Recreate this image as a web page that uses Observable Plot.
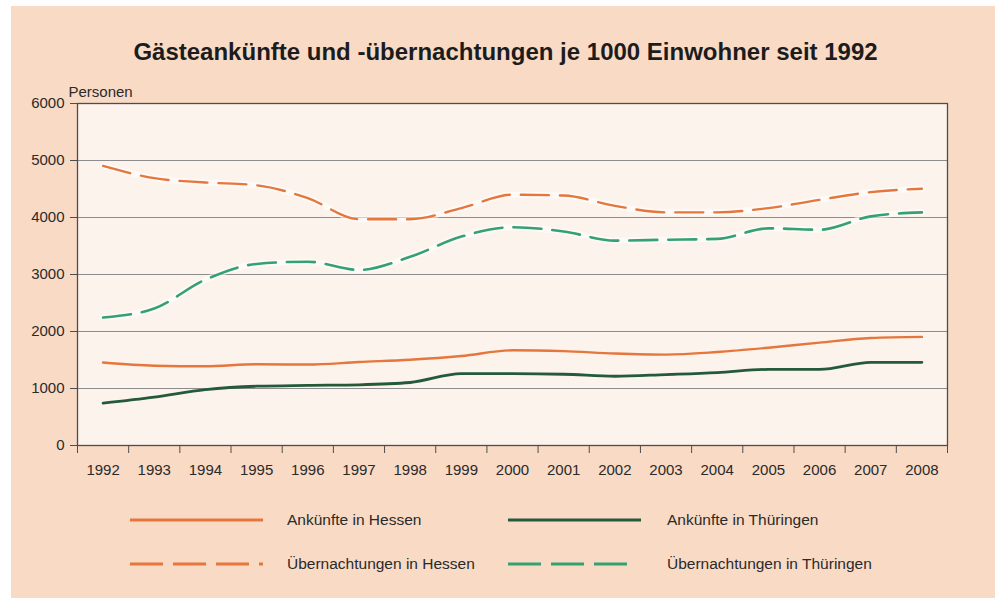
<!DOCTYPE html>
<html>
<head>
<meta charset="utf-8">
<script src="https://cdn.jsdelivr.net/npm/d3@7"></script>
<script src="https://cdn.jsdelivr.net/npm/@observablehq/plot@0.6"></script>
<style>
  html, body { margin: 0; padding: 0; background: #ffffff; }
  body { width: 995px; height: 598px; position: relative; overflow: hidden; font-family: "Liberation Sans", Arial, sans-serif; }
  #bg { position: absolute; left: 11px; top: 6px; width: 984px; height: 592px; background: #f9dac5; }
  #title { position: absolute; left: 8px; top: 38px; width: 995px; text-align: center; font-weight: bold; font-size: 24px; color: #1c1c1c; }
  #chart { position: absolute; left: 0; top: 75px; }
  .legline { position: absolute; }
  .leglabel { position: absolute; font-size: 15.5px; color: #2a2a2a; line-height: 18px; }
</style>
</head>
<body>
<div id="bg"></div>
<div id="title">Gästeankünfte und -übernachtungen je 1000 Einwohner seit 1992</div>
<div id="chart"></div>
<div id="legend"></div>
<script>
// ---- data ----
const years = [1992, 1993, 1994, 1995, 1996, 1997, 1998, 1999, 2000, 2001, 2002, 2003, 2004, 2005, 2006, 2007, 2008];
const ankuenfteHessen = [1455, 1400, 1390, 1425, 1420, 1465, 1505, 1570, 1670, 1655, 1615, 1595, 1640, 1715, 1805, 1885, 1905];
const ankuenfteThueringen = [745, 850, 980, 1040, 1055, 1065, 1105, 1260, 1260, 1250, 1215, 1245, 1280, 1335, 1335, 1460, 1460];
const uebernachtungenHessen = [4905, 4690, 4615, 4565, 4340, 3970, 3970, 4165, 4400, 4385, 4205, 4090, 4090, 4165, 4310, 4445, 4505];
const uebernachtungenThueringen = [2245, 2405, 2910, 3185, 3225, 3080, 3310, 3665, 3830, 3755, 3595, 3610, 3625, 3810, 3785, 4020, 4090];
const yTicks = [0, 1000, 2000, 3000, 4000, 5000, 6000];
const seriesNames = ["Ankünfte in Hessen", "Ankünfte in Thüringen", "Übernachtungen in Hessen", "Übernachtungen in Thüringen"];
const yLabel = "Personen";

// ---- styles ----
const seriesColors = ["#e5763c", "#24593a", "#e5763c", "#35a172"];
const seriesDash = [null, null, "28,11", "28,11"];
const seriesWidth = [2.4, 2.8, 2.4, 2.6];
const legendLen = [133, 133, 133, 122];

const seriesValues = [ankuenfteHessen, ankuenfteThueringen, uebernachtungenHessen, uebernachtungenThueringen];
const data = seriesNames.flatMap((name, s) => years.map((year, i) => ({year, value: seriesValues[s][i], series: name})));
const boundaries = years.map(y => y - 0.5).concat([years[years.length - 1] + 0.5]);

const lineMarks = seriesNames.flatMap((name, s) => {
  const rows = data.filter(d => d.series === name);
  const marks = [];
  if (seriesDash[s]) {
    marks.push(Plot.line(rows, {x: "year", y: "value", stroke: "#ffffff", strokeWidth: 6, strokeOpacity: 0.55, curve: "monotone-x"}));
  }
  marks.push(Plot.line(rows, {
    x: "year", y: "value", stroke: "series",
    strokeWidth: seriesWidth[s],
    strokeDasharray: seriesDash[s] || undefined,
    curve: "monotone-x"
  }));
  return marks;
});

const chart = Plot.plot({
  width: 995,
  height: 415,
  marginTop: 28,
  marginBottom: 45,
  marginLeft: 77,
  marginRight: 48,
  style: {background: "transparent", fontFamily: "'Liberation Sans', Arial, sans-serif", fontSize: "15px", color: "#2a2a2a", overflow: "visible"},
  x: {type: "linear", domain: [boundaries[0], boundaries[boundaries.length - 1]]},
  y: {domain: [yTicks[0], yTicks[yTicks.length - 1]]},
  color: {domain: seriesNames, range: seriesColors},
  marks: [
    Plot.frame({fill: "#fdf3ed", stroke: null}),
    Plot.gridY({ticks: yTicks.slice(1, -1), stroke: "#8c8c8c", strokeOpacity: 1, strokeWidth: 1.2}),
    ...lineMarks,
    Plot.frame({stroke: "#4d4d4d", strokeWidth: 1.3}),
    Plot.axisY({ticks: yTicks, tickSize: 7, tickPadding: 6, tickFormat: d => String(d), label: null, stroke: "#4d4d4d"}),
    Plot.axisX({ticks: years, tickSize: 0, tickPadding: 19, tickFormat: d => String(d), label: null}),
    Plot.axisX({ticks: boundaries, tickSize: 8, tickFormat: () => "", label: null, stroke: "#4d4d4d"}),
    Plot.text([yLabel], {frameAnchor: "top-left", textAnchor: "start", dx: -9, dy: -17, fontSize: 15, fill: "#2a2a2a"})
  ]
});
document.getElementById("chart").appendChild(chart);

// ---- legend ----
const legendPos = [
  {lx: 130, ly: 520, tx: 287},
  {lx: 508, ly: 520, tx: 667},
  {lx: 130, ly: 564, tx: 287},
  {lx: 508, ly: 564, tx: 667}
];
const legend = document.getElementById("legend");
seriesNames.forEach((name, s) => {
  const p = legendPos[s];
  const ns = "http://www.w3.org/2000/svg";
  const svg = document.createElementNS(ns, "svg");
  svg.setAttribute("width", 136);
  svg.setAttribute("height", 8);
  svg.setAttribute("class", "legline");
  svg.style.left = p.lx + "px";
  svg.style.top = (p.ly - 4) + "px";
  const line = document.createElementNS(ns, "line");
  line.setAttribute("x1", 0); line.setAttribute("x2", legendLen[s]);
  line.setAttribute("y1", 4); line.setAttribute("y2", 4);
  line.setAttribute("stroke", seriesColors[s]);
  line.setAttribute("stroke-width", seriesWidth[s] + 0.4);
  if (seriesDash[s]) line.setAttribute("stroke-dasharray", "33,10");
  svg.appendChild(line);
  legend.appendChild(svg);
  const label = document.createElement("div");
  label.className = "leglabel";
  label.textContent = name;
  label.style.left = p.tx + "px";
  label.style.top = (p.ly - 9) + "px";
  legend.appendChild(label);
});
</script>
</body>
</html>
